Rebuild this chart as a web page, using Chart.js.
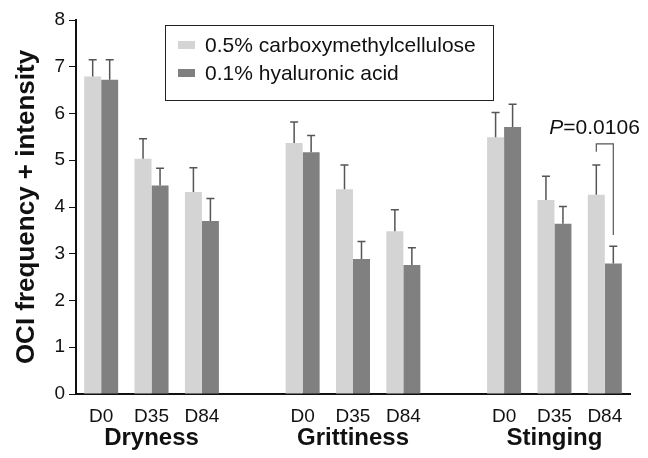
<!DOCTYPE html>
<html>
<head>
<meta charset="utf-8">
<script src="https://cdn.jsdelivr.net/npm/chart.js@4"></script>
<style>
  html, body { margin: 0; padding: 0; background: #fff; }
  #wrap { width: 648px; height: 458px; }
</style>
</head>
<body>
<div id="wrap"><canvas id="chart" width="648" height="458"></canvas></div>
<script>
// slots: three days per symptom, an empty slot between symptoms
const dias = ["D0", "D35", "D84", "", "D0", "D35", "D84", "", "D0", "D35", "D84"];
const grupos = ["Dryness", "Grittiness", "Stinging"];
const centrosGrupo = [1, 5, 9];

const cmc = [6.79, 5.03, 4.32, null, 5.37, 4.38, 3.48, null, 5.49, 4.15, 4.26];
const cmcError = [7.15, 5.46, 4.84, null, 5.82, 4.90, 3.94, null, 6.02, 4.66, 4.90];
const ha = [6.72, 4.46, 3.70, null, 5.17, 2.89, 2.76, null, 5.71, 3.64, 2.79];
const haError = [7.15, 4.83, 4.18, null, 5.53, 3.26, 3.13, null, 6.20, 4.01, 3.16];

// bracket for the P value (Stinging D84)
const pIndice = 10;
const pTexto = "=0.0106";
const pArriba = 5.35, pIzq = 5.18, pDer = 3.40;

const FUENTE = "'Liberation Sans', Arial, sans-serif";

const extras = {
  id: "extras",
  afterDatasetsDraw(chart) {
    const ctx = chart.ctx;
    const y = chart.scales.y;
    const x = chart.scales.x;
    const errores = [cmcError, haError];

    // error bars
    ctx.save();
    ctx.strokeStyle = "#555";
    ctx.lineWidth = 1.5;
    chart.data.datasets.forEach((ds, i) => {
      const meta = chart.getDatasetMeta(i);
      meta.data.forEach((bar, j) => {
        if (ds.data[j] == null) return;
        const top = y.getPixelForValue(errores[i][j]);
        ctx.beginPath();
        ctx.moveTo(bar.x, bar.y);
        ctx.lineTo(bar.x, top);
        ctx.moveTo(bar.x - 4, top);
        ctx.lineTo(bar.x + 4, top);
        ctx.stroke();
      });
    });

    // P bracket
    const xa = chart.getDatasetMeta(0).data[pIndice].x;
    const xb = chart.getDatasetMeta(1).data[pIndice].x;
    ctx.lineWidth = 1.2;
    ctx.beginPath();
    ctx.moveTo(xa, y.getPixelForValue(pIzq));
    ctx.lineTo(xa, y.getPixelForValue(pArriba));
    ctx.lineTo(xb, y.getPixelForValue(pArriba));
    ctx.lineTo(xb, y.getPixelForValue(pDer));
    ctx.stroke();

    ctx.fillStyle = "#111";
    ctx.textBaseline = "middle";
    ctx.textAlign = "left";
    const ty = y.getPixelForValue(pArriba) - 16;
    ctx.font = "italic 21px " + FUENTE;
    const px = xa - 47;
    ctx.fillText("P", px, ty);
    const w = ctx.measureText("P").width;
    ctx.font = "21px " + FUENTE;
    ctx.fillText(pTexto, px + w, ty);

    // group labels
    ctx.font = "bold 24px " + FUENTE;
    ctx.textAlign = "center";
    grupos.forEach((g, k) => {
      ctx.fillText(g, x.getPixelForValue(centrosGrupo[k]), 438);
    });

    // legend box
    const a = chart.chartArea;
    const lx = a.left + 89, ly = a.top + 5;
    ctx.strokeStyle = "#222";
    ctx.lineWidth = 1;
    ctx.strokeRect(lx + 0.5, ly + 0.5, 328, 75);
    ctx.font = "21px " + FUENTE;
    ctx.textAlign = "left";
    chart.data.datasets.forEach((ds, i) => {
      const cy = ly + 20 + i * 28;
      ctx.fillStyle = ds.backgroundColor;
      ctx.fillRect(lx + 13, cy - 4, 17, 8);
      ctx.fillStyle = "#111";
      ctx.fillText(ds.label, lx + 40, cy + 1);
    });
    ctx.restore();
  }
};

new Chart(document.getElementById("chart"), {
  type: "bar",
  data: {
    labels: dias,
    datasets: [
      { label: "0.5% carboxymethylcellulose", data: cmc, backgroundColor: "#d4d4d4" },
      { label: "0.1% hyaluronic acid", data: ha, backgroundColor: "#808080" }
    ]
  },
  options: {
    responsive: false,
    animation: false,
    layout: { padding: { top: 20, right: 18, left: 0, bottom: 0 } },
    plugins: { legend: { display: false }, tooltip: { enabled: false } },
    datasets: { bar: { categoryPercentage: 0.675, barPercentage: 1, skipNull: false } },
    scales: {
      x: {
        grid: { display: false },
        border: { display: true, color: "#111", width: 2 },
        ticks: { color: "#111", font: { family: FUENTE, size: 19 }, padding: 3, maxRotation: 0, autoSkip: false },
        afterFit(s) { s.height = 64; }
      },
      y: {
        min: 0, max: 8,
        grid: { drawOnChartArea: false, drawTicks: true, tickLength: 7, color: "#111" },
        border: { display: true, color: "#111", width: 2 },
        ticks: { stepSize: 1, color: "#111", font: { family: FUENTE, size: 19 }, padding: 4 },
        title: { display: true, text: "OCI frequency + intensity", color: "#111", font: { family: FUENTE, size: 26, weight: "bold" }, padding: { top: 11, bottom: 0 } },
        afterFit(s) { s.width = 76; }
      }
    }
  },
  plugins: [extras]
});
</script>
</body>
</html>
